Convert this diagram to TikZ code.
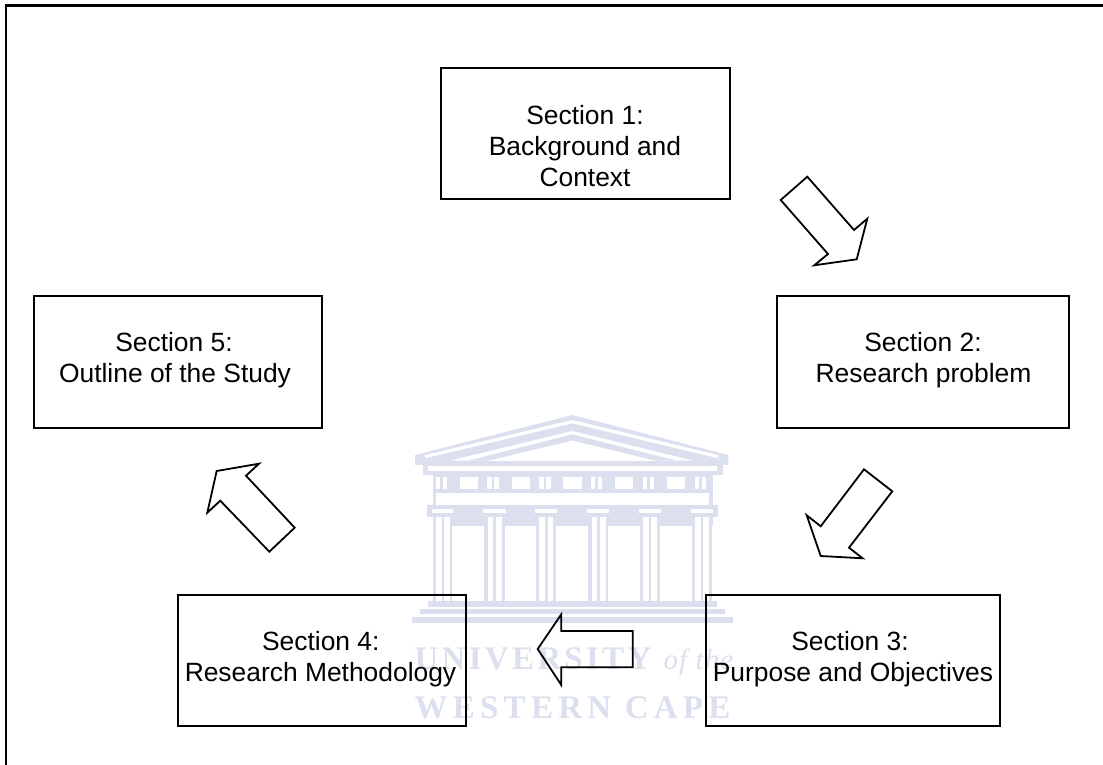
\documentclass[tikz,border=0pt]{standalone}
\usepackage{fontspec}
\setmainfont{Liberation Sans}
\newfontfamily\wmfont[LetterSpace=10]{Liberation Serif}
\newfontfamily\wmfontb[LetterSpace=16]{Liberation Serif}
\newfontfamily\wmfontc[LetterSpace=4]{Liberation Serif}
\definecolor{wm}{HTML}{DCE0EE}
\tikzset{
  x=1pt,y=-1pt,
  secbox/.style={draw=black,line width=2pt,fill=none},
  sectext/.style={font=\fontsize{26.4}{31}\selectfont,align=center,inner sep=0pt,text=black,anchor=base},
  blockarrow/.style={draw=black,line width=1.8pt,line join=miter,fill=none},
  wmwhite/.style={fill=white,draw=none},
  wmfill/.style={fill=wm,draw=none}
}
\begin{document}
\begin{tikzpicture}
\useasboundingbox (0,0) rectangle (1103,765);
% outer frame
\draw[line width=2.3pt,black] (6,765) -- (6,5.5) -- (1103,5.5);
% watermark
\begin{scope}[shift={(400,400)},x=0.3333pt,y=-0.3333pt]
 \fill[wmfill] (517,45) -- (985,165) -- (985,195) -- (45,195) -- (45,165) -- cycle;
 \draw[white,line width=3.2pt,line join=miter] (75,170) -- (517,65) -- (955,170);
 \fill[wmwhite] (517,93) -- (880,182) -- (150,182) -- cycle;
 \fill[wmfill] (517,103) -- (830,182) -- (205,182) -- cycle;
 \fill[wmwhite] (517,122) -- (770,183) -- (262,183) -- cycle;
 \fill[wmfill] (68,193) rectangle (970,225);
 \fill[wmwhite] (85,197) rectangle (950,212);
 \fill[wmfill] (100,225) rectangle (940,320);
 \fill[wmwhite] (108,280) rectangle (928,315);
 \foreach \a in {180,335,490,645,800}{\fill[wmwhite] (\a,230) rectangle ++(55,38);}
 \foreach \a in {108,262,418,573,728,884}{\fill[wmwhite] (\a,230) rectangle ++(13,38);\fill[wmwhite] (\a+21,230) rectangle ++(13,38);}
 \fill[wmfill] (80,316) rectangle (955,352);
 \fill[wmfill] (100,352) rectangle (940,378);
 \foreach \a/\b in {95/160,250/318,405/472,562/628,716/782,872/940}{
   \fill[wmwhite] (\a,327) rectangle (\b,340);
   \fill[wmfill] (\a+3,340) rectangle (\b-3,606);
   \fill[wmwhite] (\a+13,350) rectangle ++(17,255);
   \fill[wmwhite] (\a+38,350) rectangle ++(17,255);
 }
 \fill[wmfill] (85,603) rectangle (950,620);
 \fill[wmfill] (60,628) rectangle (975,642);
 \fill[wmfill] (37,650) rectangle (998,668);
 \node[anchor=base west,inner sep=0pt,text=wm,font=\wmfont\fontsize{33}{33}\selectfont\bfseries] (wmuni) at (43,810) {UNIVERSITY};
 \node[anchor=base west,inner sep=0pt,text=wm,font=\wmfontc\fontsize{29}{29}\selectfont\itshape] (wmof) at (790,810) {of the};
 \node[anchor=base west,inner sep=0pt,text=wm,font=\wmfontb\fontsize{33}{33}\selectfont\bfseries] (wmwes) at (43,955) {WESTERN CAPE};
\end{scope}
% boxes
\draw[secbox] (441,68) rectangle (730,199);
\draw[secbox] (777,296) rectangle (1069,428);
\draw[secbox] (706,595) rectangle (1000,725.5);
\draw[secbox] (178,595) rectangle (466,725.5);
\draw[secbox] (34,296) rectangle (322,428);
% text
\node[sectext] (s1a) at (585,125) {Section 1:};
\node[sectext] (s1b) at (585,155.7) {Background and};
\node[sectext] (s1c) at (585,186.7) {Context};
\node[sectext] (s2a) at (923,351) {Section 2:};
\node[sectext] (s2b) at (923.5,382) {Research problem};
\node[sectext] (s3a) at (850,650) {Section 3:};
\node[sectext] (s3b) at (853,681) {Purpose and Objectives};
\node[sectext] (s4a) at (320.8,650) {Section 4:};
\node[sectext] (s4b) at (320.5,681) {Research Methodology};
\node[sectext] (s5a) at (174,351) {Section 5:};
\node[sectext] (s5b) at (175,382) {Outline of the Study};
% arrows
\draw[blockarrow] (807.3,176.7) -- (780.7,200) -- (828,254) -- (814.3,265.3) -- (856.7,259.3) -- (867.3,218.7) -- (854,230) -- cycle;
\draw[blockarrow] (864,469.3) -- (892.3,491.3) -- (849,547.7) -- (862.7,558.3) -- (820.7,556) -- (806.7,515.3) -- (820.7,526.3) -- cycle;
\draw[blockarrow] (537.7,649) -- (561.3,614.3) -- (561.3,631) -- (632.7,631) -- (632.7,667.3) -- (561.3,667.3) -- (561.3,685) -- cycle;
\draw[blockarrow] (259,463.7) -- (216.7,471) -- (207.3,512.7) -- (220.3,500.7) -- (269.3,551.7) -- (294.7,527.7) -- (246,475.7) -- cycle;
\end{tikzpicture}
\end{document}
